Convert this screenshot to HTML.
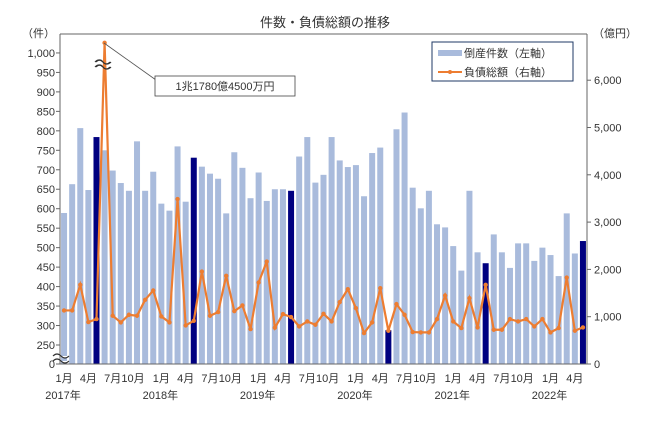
<!DOCTYPE html>
<html><head><meta charset="utf-8">
<style>
html,body{margin:0;padding:0;background:#fff;}
svg text{font-family:"Liberation Sans","Noto Sans CJK JP",sans-serif;fill:#333;}
</style></head>
<body>
<svg id="chart" width="650" height="423" viewBox="0 0 650 423" xmlns="http://www.w3.org/2000/svg">
<text x="325" y="27" text-anchor="middle" font-size="13">件数・負債総額の推移</text>
<text x="22" y="37" font-size="11">（件）</text>
<text x="593" y="37" font-size="11">（億円）</text>
<g id="bars"></g>
<g id="axes"></g>
<g id="line"></g>
<g>
<line x1="104" y1="43" x2="156" y2="80" stroke="#555" stroke-width="0.8"/>
<rect x="155" y="76" width="140" height="20" fill="#fff" stroke="#444" stroke-width="0.8"/>
<text x="225" y="90" text-anchor="middle" font-size="11" fill="#222">1兆1780億4500万円</text>
</g>
<g>
<rect x="432" y="42" width="141" height="39" fill="#fff" stroke="#1f3864" stroke-width="1"/>
<rect x="438" y="50" width="24" height="6" fill="#a9bbdc"/>
<text x="464" y="57" font-size="11">倒産件数（左軸）</text>
<line x1="438" y1="72" x2="462" y2="72" stroke="#ed7d31" stroke-width="2"/>
<circle cx="450" cy="72" r="2" fill="#ed7d31"/>
<text x="464" y="76" font-size="11">負債総額（右軸）</text>
</g>
</svg>
<script>
const counts=[589,663,807,648,784,750,698,666,646,773,646,695,613,595,760,618,731,708,690,677,588,745,705,627,693,620,650,650,646,734,784,667,687,784,724,707,712,632,743,757,288,804,847,654,601,646,560,552,504,441,646,488,460,534,488,448,511,511,466,500,481,427,588,485,517];
const debts=[1132,1132,1674,886,949,11780,1020,879,1041,1020,1357,1554,1006,879,3488,816,914,1955,1020,1097,1864,1118,1238,738,1723,2166,767,1055,992,795,900,830,1062,900,1308,1582,1181,654,879,1603,703,1266,1041,675,668,668,949,1448,900,759,1392,774,1673,724,724,949,900,949,795,949,668,759,1828,703,774];
const leftTicks=[0,250,300,350,400,450,500,550,600,650,700,750,800,850,900,950,1000];
const leftTickLabels=["0","250","300","350","400","450","500","550","600","650","700","750","800","850","900","950","1,000"];
const rightTicks=[0,1000,2000,3000,4000,5000,6000];
const rightTickLabels=["0","1,000","2,000","3,000","4,000","5,000","6,000"];
const xLabels=["1月","4月","7月","10月","1月","4月","7月","10月","1月","4月","7月","10月","1月","4月","7月","10月","1月","4月","7月","10月","1月","4月"];
const yearLabels=["2017年","2018年","2019年","2020年","2021年","2022年"];
const DEBT_CAP=6790;
const NS="http://www.w3.org/2000/svg";
const L=60,R=587,T=34,B=364,N=counts.length;
const step=(R-L)/N;
function xc(i){return L+step*(i+0.5);}
function yL(v){return v<250?B-(v/250)*(B-345):345-(v-250)*19.47/50;}
function yR(v){return B-v*0.0473;}
function mk(tag,attrs,parent){const e=document.createElementNS(NS,tag);for(const k in attrs)e.setAttribute(k,attrs[k]);parent.appendChild(e);return e;}
const bars=document.getElementById('bars'),axes=document.getElementById('axes'),line=document.getElementById('line');
counts.forEach((v,i)=>{
 const dark=(i%12)===4;
 const r=mk('rect',{x:xc(i)-3,y:yL(v),width:6,height:B-yL(v),fill:dark?'#000080':'#a9bbdc'},bars);
 
 
});
// axes frame
mk('line',{x1:L,y1:T,x2:L,y2:B,stroke:'#666'},axes);
mk('line',{x1:R,y1:T,x2:R,y2:B,stroke:'#666'},axes);
mk('line',{x1:L,y1:T,x2:R,y2:T,stroke:'#666'},axes);
mk('line',{x1:L,y1:B,x2:R,y2:B,stroke:'#666'},axes);
leftTicks.forEach((v,i)=>{
 const y=yL(v);
 mk('line',{x1:L-4,y1:y,x2:L,y2:y,stroke:'#666'},axes);
 const t=mk('text',{x:L-5,y:y+4,'text-anchor':'end','font-size':'11'},axes);
 t.textContent=leftTickLabels[i];
 
 
});
rightTicks.forEach((v,i)=>{
 const y=yR(v);
 mk('line',{x1:R,y1:y,x2:R+4,y2:y,stroke:'#666'},axes);
 const t=mk('text',{x:R+7,y:y+4,'font-size':'11'},axes);
 t.textContent=rightTickLabels[i];
 
 
});
xLabels.forEach((s,k)=>{
 const i=k*3;
 const t=mk('text',{x:xc(i)+(s.length>2?-4:0),y:382,'text-anchor':'middle','font-size':'11'},axes);
 t.textContent=s;
 
 
});
yearLabels.forEach((s,k)=>{
 const t=mk('text',{x:xc(k*12)-1,y:399,'text-anchor':'middle','font-size':'11'},axes);
 t.textContent=s;
 
 
});
// axis break marks
mk('path',{d:'M53,356 q4,-4 8,0 t8,0 M53,361 q4,-4 8,0 t8,0',stroke:'#333',fill:'#fff','stroke-width':'1.2'},axes);
mk('path',{d:'M95,62 q4,-4 8,0 t8,0 M95,67 q4,-4 8,0 t8,0',stroke:'#333',fill:'none','stroke-width':'1.2'},axes);
// line
const pts=debts.map((v,i)=>[xc(i),yR(Math.min(v,DEBT_CAP))]);
const p=mk('polyline',{points:pts.map(q=>q.join(',')).join(' '),fill:'none',stroke:'#ed7d31','stroke-width':'2.2'},line);


pts.forEach((q,i)=>{
 const c=mk('circle',{cx:q[0],cy:q[1],r:2.2,fill:'#ed7d31'},line);
 
 
});
// redraw break on peak over line
mk('path',{d:'M96,62 q4,-4 7,0 t7,0 M96,67 q4,-4 7,0 t7,0',stroke:'#333',fill:'none','stroke-width':'1.2'},line);
</script>
</body></html>
